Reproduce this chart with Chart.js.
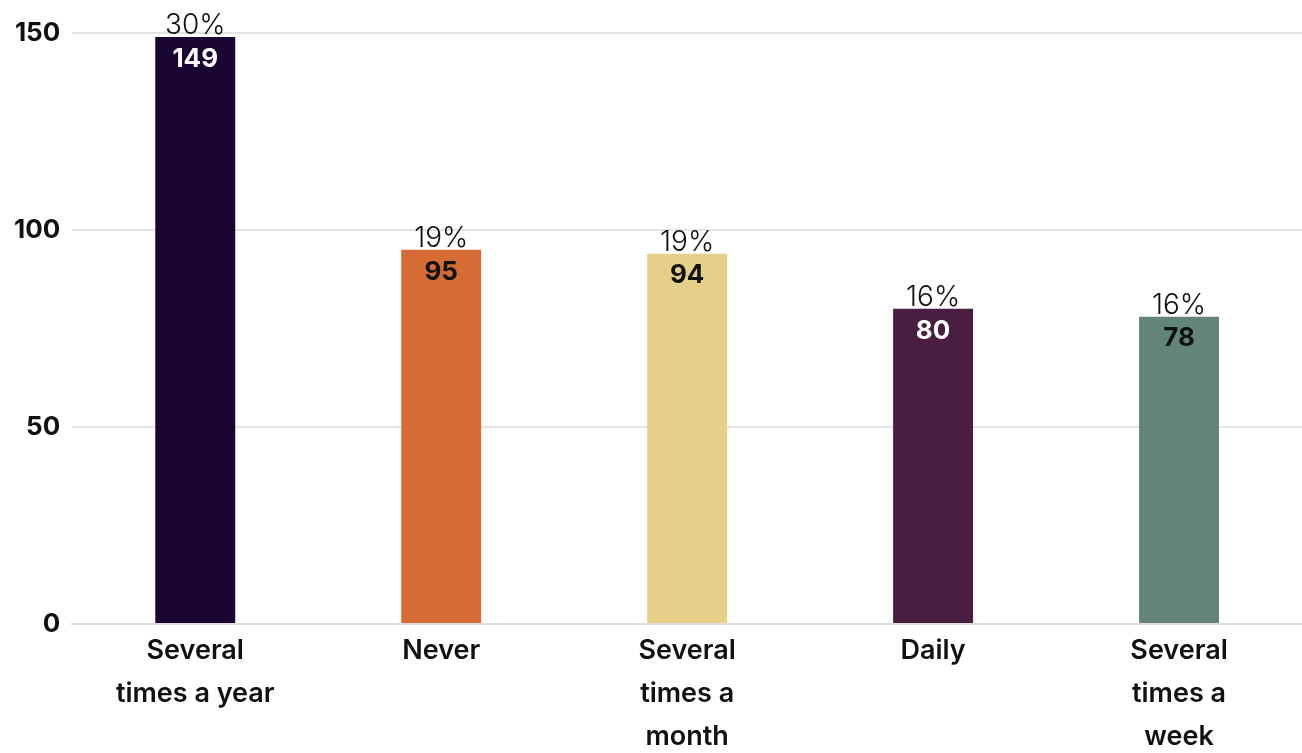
<!DOCTYPE html>
<html>
<head>
<meta charset="utf-8">
<script src="https://cdn.jsdelivr.net/npm/chart.js@4"></script>
<style>
  html, body { margin: 0; padding: 0; background: #fff; }
  #wrap { width: 1302px; height: 753px; }
</style>
</head>
<body>
<div id="wrap"><canvas id="myChart" width="1302" height="753"></canvas></div>
<script>
const categories = [
  ['Several', 'times a year'],
  ['Never'],
  ['Several', 'times a', 'month'],
  ['Daily'],
  ['Several', 'times a', 'week']
];
const counts = [149, 95, 94, 80, 78];
const percents = ['30%', '19%', '19%', '16%', '16%'];
const barColors = ['#1a0533', '#d66b35', '#e6d088', '#4a1e40', '#62847b'];
const valueColors = ['#ffffff', '#111111', '#111111', '#ffffff', '#111111'];
const yTicks = [0, 50, 100, 150];

const FONT = 'Inter, "Open Sans", sans-serif';

// labels on the bars: percent above, count inside near the top
const barLabels = {
  id: 'barLabels',
  afterDatasetsDraw(chart) {
    const c = chart.ctx;
    const meta = chart.getDatasetMeta(0);
    c.save();
    c.textAlign = 'center';
    meta.data.forEach((bar, i) => {
      c.textBaseline = 'alphabetic';
      c.fillStyle = '#111';
      c.font = '300 28px ' + FONT;
      c.fillText(percents[i], bar.x, bar.y - 3);
      c.textBaseline = 'middle';
      c.fillStyle = valueColors[i];
      c.font = '700 26px ' + FONT;
      c.fillText(counts[i], bar.x, bar.y + 22);
    });
    c.restore();
  }
};

const ctx = document.getElementById('myChart').getContext('2d');

new Chart(ctx, {
  type: 'bar',
  data: {
    labels: categories,
    datasets: [{
      data: counts,
      backgroundColor: barColors,
      borderWidth: 0,
      categoryPercentage: 1,
      barPercentage: 0.325
    }]
  },
  options: {
    responsive: false,
    animation: false,
    layout: { padding: { top: 33, right: 0, left: 2, bottom: 0 } },
    plugins: {
      legend: { display: false },
      tooltip: { enabled: false }
    },
    scales: {
      x: {
        afterFit(axis) { axis.height = 129; },
        grid: { display: false },
        border: { color: '#dddddd', width: 2 },
        ticks: {
          color: '#111',
          padding: -2,
          maxRotation: 0,
          font: { family: FONT, size: 27, weight: '600', lineHeight: 1.58 }
        }
      },
      y: {
        min: 0,
        max: 150,
        afterBuildTicks(axis) {
          axis.ticks = yTicks.map(v => ({ value: v }));
        },
        grid: { color: '#e3e3e3', lineWidth: 2, drawTicks: false },
        border: { display: false },
        ticks: {
          color: '#111',
          padding: 12,
          font: { family: FONT, size: 26, weight: '700' }
        }
      }
    }
  },
  plugins: [barLabels]
});
</script>
</body>
</html>
